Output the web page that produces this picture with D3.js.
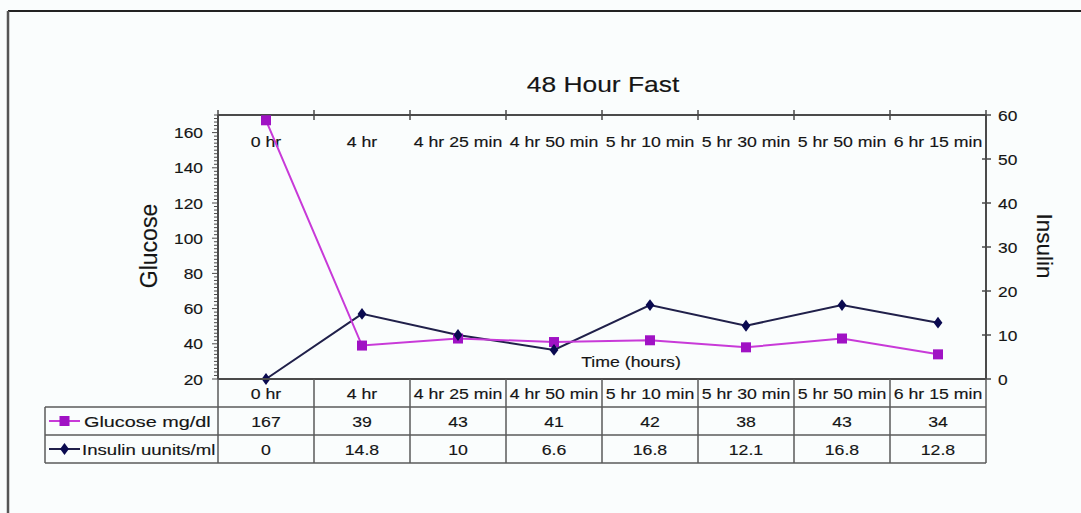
<!DOCTYPE html>
<html>
<head>
<meta charset="utf-8">
<script src="https://cdn.jsdelivr.net/npm/d3@7"></script>
<style>
  html, body { margin: 0; padding: 0; background: #fafdfd; }
  svg { display: block; }
  text { font-family: "Liberation Sans", Arial, sans-serif; fill: #151515; stroke: #151515; stroke-width: 0.15px; }
</style>
</head>
<body>
<svg id="chart" width="1081" height="513"></svg>
<script>
const categories = ["0 hr", "4 hr", "4 hr 25 min", "4 hr 50 min", "5 hr 10 min", "5 hr 30 min", "5 hr 50 min", "6 hr 15 min"];
const glucose = [167, 39, 43, 41, 42, 38, 43, 34];
const insulin = [0, 14.8, 10, 6.6, 16.8, 12.1, 16.8, 12.8];
const insulinLabels = ["0", "14.8", "10", "6.6", "16.8", "12.1", "16.8", "12.8"];
const leftTicks = [20, 40, 60, 80, 100, 120, 140, 160];
const rightTicks = [0, 10, 20, 30, 40, 50, 60];
const seriesNames = ["Glucose mg/dl", "Insulin uunits/ml"];
const title = "48 Hour Fast";

const svg = d3.select("#chart");
const W = 1081, H = 513;
const plot = { left: 218, right: 986, top: 115, bottom: 379 };
const SX = 1.18;

const x = d3.scaleBand().domain(categories).range([plot.left, plot.right]).paddingInner(0).paddingOuter(0);
const yL = d3.scaleLinear().domain([20, 170]).range([plot.bottom, plot.top]);
const yR = d3.scaleLinear().domain([0, 60]).range([plot.bottom, plot.top]);
const bw = x.bandwidth();
const cx = c => x(c) + bw / 2;

function txt(g, px, py, s, size, anchor, sx) {
  return g.append("text")
    .attr("transform", `translate(${px},${py}) scale(${sx || SX},1)`)
    .attr("text-anchor", anchor || "middle")
    .style("font-size", size + "px")
    .text(s);
}

// outer frame
svg.append("line").attr("x1", 8).attr("x2", W).attr("y1", 11).attr("y2", 11).attr("stroke", "#222").attr("stroke-width", 2);
svg.append("line").attr("x1", 8).attr("x2", 8).attr("y1", 11).attr("y2", H).attr("stroke", "#555").attr("stroke-width", 2.5);

// title
txt(svg, 603, 92, title, 22, "middle", 1.2);

const axisColor = "#4a4a4a";

// top axis line with crossing ticks
svg.append("line").attr("x1", plot.left).attr("x2", plot.right).attr("y1", plot.top).attr("y2", plot.top)
  .attr("stroke", axisColor).attr("stroke-width", 2);
const bounds = categories.map(c => x(c)).concat([plot.right]);
svg.selectAll(".ttick").data(bounds).join("line")
  .attr("x1", d => d).attr("x2", d => d).attr("y1", plot.top - 5).attr("y2", plot.top + 5)
  .attr("stroke", axisColor).attr("stroke-width", 1.5);
categories.forEach(c => txt(svg, cx(c), 147, c, 15, "middle"));

// left axis
const gL = svg.append("g").attr("transform", `translate(${plot.left},0)`);
gL.append("line").attr("y1", plot.top).attr("y2", plot.bottom).attr("stroke", axisColor).attr("stroke-width", 2);
const minor = d3.range(20, 171, 2);
gL.selectAll(".mt").data(minor).join("line")
  .attr("x1", d => (d % 20 === 0 ? -6 : -4)).attr("x2", 0)
  .attr("y1", d => yL(d)).attr("y2", d => yL(d))
  .attr("stroke", axisColor).attr("stroke-width", 1);
leftTicks.forEach(v => txt(gL, -15, yL(v) + 5.5, String(v), 15.5, "end", 1.12));

// right axis
const gR = svg.append("g").attr("transform", `translate(${plot.right},0)`);
gR.append("line").attr("y1", plot.top).attr("y2", plot.bottom).attr("stroke", axisColor).attr("stroke-width", 2);
gR.selectAll(".rt").data(rightTicks).join("line")
  .attr("x1", -4).attr("x2", 5).attr("y1", d => yR(d)).attr("y2", d => yR(d))
  .attr("stroke", axisColor).attr("stroke-width", 1.5);
rightTicks.forEach(v => txt(gR, 12, yR(v) + 5.5, String(v), 15.5, "start", 1.12));

// axis titles
svg.append("text").attr("transform", `translate(157,246) rotate(-90)`).attr("text-anchor", "middle")
  .style("font-size", "23px").text("Glucose");
svg.append("text").attr("transform", `translate(1037,246) rotate(90)`).attr("text-anchor", "middle")
  .style("font-size", "22.5px").text("Insulin");
txt(svg, 631, 367, "Time (hours)", 15, "middle");

// lines
const gColLine = "#c83ad8", gColMark = "#a012c4";
const iColLine = "#20204a", iColMark = "#0a0a50";
const lineG = d3.line().x((d, i) => cx(categories[i])).y(d => yL(d));
const lineI = d3.line().x((d, i) => cx(categories[i])).y(d => yR(d));
svg.append("path").attr("d", lineI(insulin)).attr("fill", "none").attr("stroke", iColLine).attr("stroke-width", 2);
svg.append("path").attr("d", lineG(glucose)).attr("fill", "none").attr("stroke", gColLine).attr("stroke-width", 2);
svg.selectAll(".gm").data(glucose).join("rect")
  .attr("x", (d, i) => cx(categories[i]) - 5).attr("y", d => yL(d) - 5)
  .attr("width", 10).attr("height", 10).attr("fill", gColMark);
const diamond = d3.symbol().type(d3.symbolDiamond).size(40);
svg.selectAll(".im").data(insulin).join("path")
  .attr("transform", (d, i) => `translate(${cx(categories[i])},${yR(d)}) scale(1.3,1)`)
  .attr("d", diamond).attr("fill", iColMark);

// data table
const rows = [plot.bottom, 407, 435, 463];
const legLeft = 45;
const tCol = "#5a5a5a";
const tg = svg.append("g").attr("stroke", tCol).attr("stroke-width", 1.5);
tg.append("line").attr("x1", plot.left).attr("x2", plot.right).attr("y1", rows[0]).attr("y2", rows[0]).attr("stroke", axisColor).attr("stroke-width", 2);
tg.append("line").attr("x1", legLeft).attr("x2", plot.right).attr("y1", rows[1]).attr("y2", rows[1]);
tg.append("line").attr("x1", legLeft).attr("x2", plot.right).attr("y1", rows[2]).attr("y2", rows[2]);
tg.append("line").attr("x1", legLeft).attr("x2", plot.right).attr("y1", rows[3]).attr("y2", rows[3]);
tg.append("line").attr("x1", legLeft).attr("x2", legLeft).attr("y1", rows[1]).attr("y2", rows[3]);
bounds.forEach(b => tg.append("line").attr("x1", b).attr("x2", b).attr("y1", rows[0]).attr("y2", rows[3]));

categories.forEach((c, i) => {
  txt(svg, cx(c), rows[0] + 20, c, 15, "middle");
  txt(svg, cx(c), rows[1] + 20, String(glucose[i]), 15, "middle");
  txt(svg, cx(c), rows[2] + 20, insulinLabels[i], 15, "middle");
});

// legend keys
const ly1 = (rows[1] + rows[2]) / 2, ly2 = (rows[2] + rows[3]) / 2;
svg.append("line").attr("x1", 49).attr("x2", 80).attr("y1", ly1).attr("y2", ly1).attr("stroke", gColLine).attr("stroke-width", 2);
svg.append("rect").attr("x", 64.5 - 5).attr("y", ly1 - 5).attr("width", 10).attr("height", 10).attr("fill", gColMark);
svg.append("line").attr("x1", 49).attr("x2", 80).attr("y1", ly2).attr("y2", ly2).attr("stroke", iColLine).attr("stroke-width", 2);
svg.append("path").attr("transform", `translate(64.5,${ly2}) scale(1.3,1)`).attr("d", diamond).attr("fill", iColMark);
txt(svg, 84, rows[1] + 20, seriesNames[0], 15.5, "start", 1.28);
txt(svg, 82, rows[2] + 20, seriesNames[1], 15.5, "start", 1.2);
</script>
</body>
</html>
